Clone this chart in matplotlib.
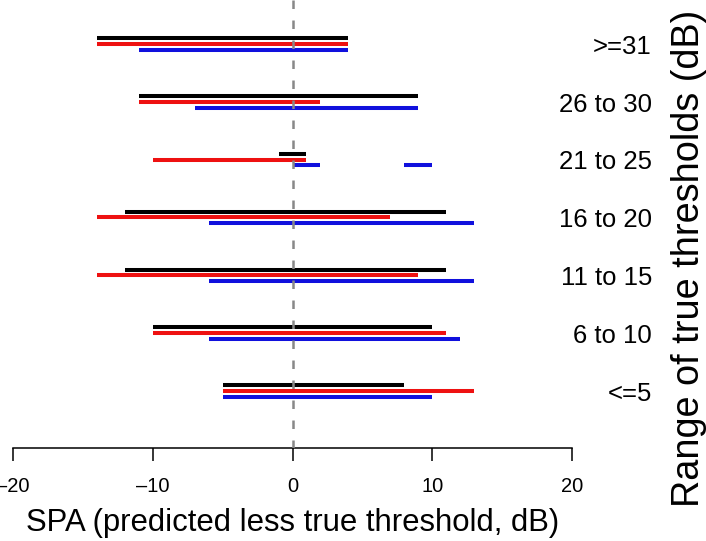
import matplotlib
matplotlib.use("Agg")
import matplotlib.pyplot as plt
from matplotlib.transforms import blended_transform_factory

plt.rcParams['font.family'] = ['Liberation Sans', 'DejaVu Sans']

categories = ["<=5", "6 to 10", "11 to 15", "16 to 20", "21 to 25", "26 to 30", ">=31"]
black_lo = [-5, -10, -12, -12, -1, -11, -14]
black_hi = [8, 10, 11, 11, 1, 9, 4]
red_lo = [-5, -10, -14, -14, -10, -11, -14]
red_hi = [13, 11, 9, 7, 1, 2, 4]
blue_lo = [-5, -6, -6, -6, 0, -7, -11]
blue_hi = [10, 12, 13, 13, 2, 9, 4]
# second blue segment for "21 to 25"
blue2_cat = ["21 to 25"]
blue2_lo = [8]
blue2_hi = [10]
xticks = [-20, -10, 0, 10, 20]

W, H = 706, 541
fig = plt.figure(figsize=(W / 100, H / 100), dpi=100)
ax = fig.add_axes([13 / W, 93 / H, (572 - 13) / W, (H - 93) / H])

ypos = list(range(len(categories)))
off = 0.1
lw = 2.9
ax.hlines([y + off for y in ypos], black_lo, black_hi, color='black', lw=lw, capstyle='butt')
ax.hlines(ypos, red_lo, red_hi, color='#ee1111', lw=lw, capstyle='butt')
ax.hlines([y - off for y in ypos], blue_lo, blue_hi, color='#1010dd', lw=lw, capstyle='butt')
ax.hlines([categories.index(c) - off for c in blue2_cat], blue2_lo, blue2_hi,
          color='#1010dd', lw=lw, capstyle='butt')

ymin, ymax = -0.986, 6.76
ax.plot([0, 0], [ymax, ymin], color='#888888', lw=1.8, ls=(0, (3.4, 4.6)),
        solid_capstyle='butt', dash_capstyle='butt', zorder=5)

ax.set_xlim(-20, 20)
ax.set_ylim(ymin, ymax)
for s in ['left', 'right', 'top']:
    ax.spines[s].set_visible(False)
ax.spines['bottom'].set_linewidth(1.1)
ax.set_yticks([])
ax.set_xticks(xticks)
ax.set_xticklabels([str(t).replace('-', '\u2013') for t in xticks], fontsize=14.5)
ax.tick_params(axis='x', length=9, width=1.1, pad=12)

tr = blended_transform_factory(fig.transFigure, ax.transData)
for y, c in zip(ypos, categories):
    ax.text(652 / W, y - 0.17, c, transform=tr, ha='right', va='baseline', fontsize=18.5)

fig.text(293 / W, 1 - 531 / H, "SPA (predicted less true threshold, dB)",
         ha='center', va='baseline', fontsize=22.4)
fig.text(699 / W, 1 - 258 / H, "Range of true thresholds (dB)",
         ha='center', va='baseline', rotation=90, rotation_mode='anchor', fontsize=27.3)

fig.savefig("out.png", dpi=100)
